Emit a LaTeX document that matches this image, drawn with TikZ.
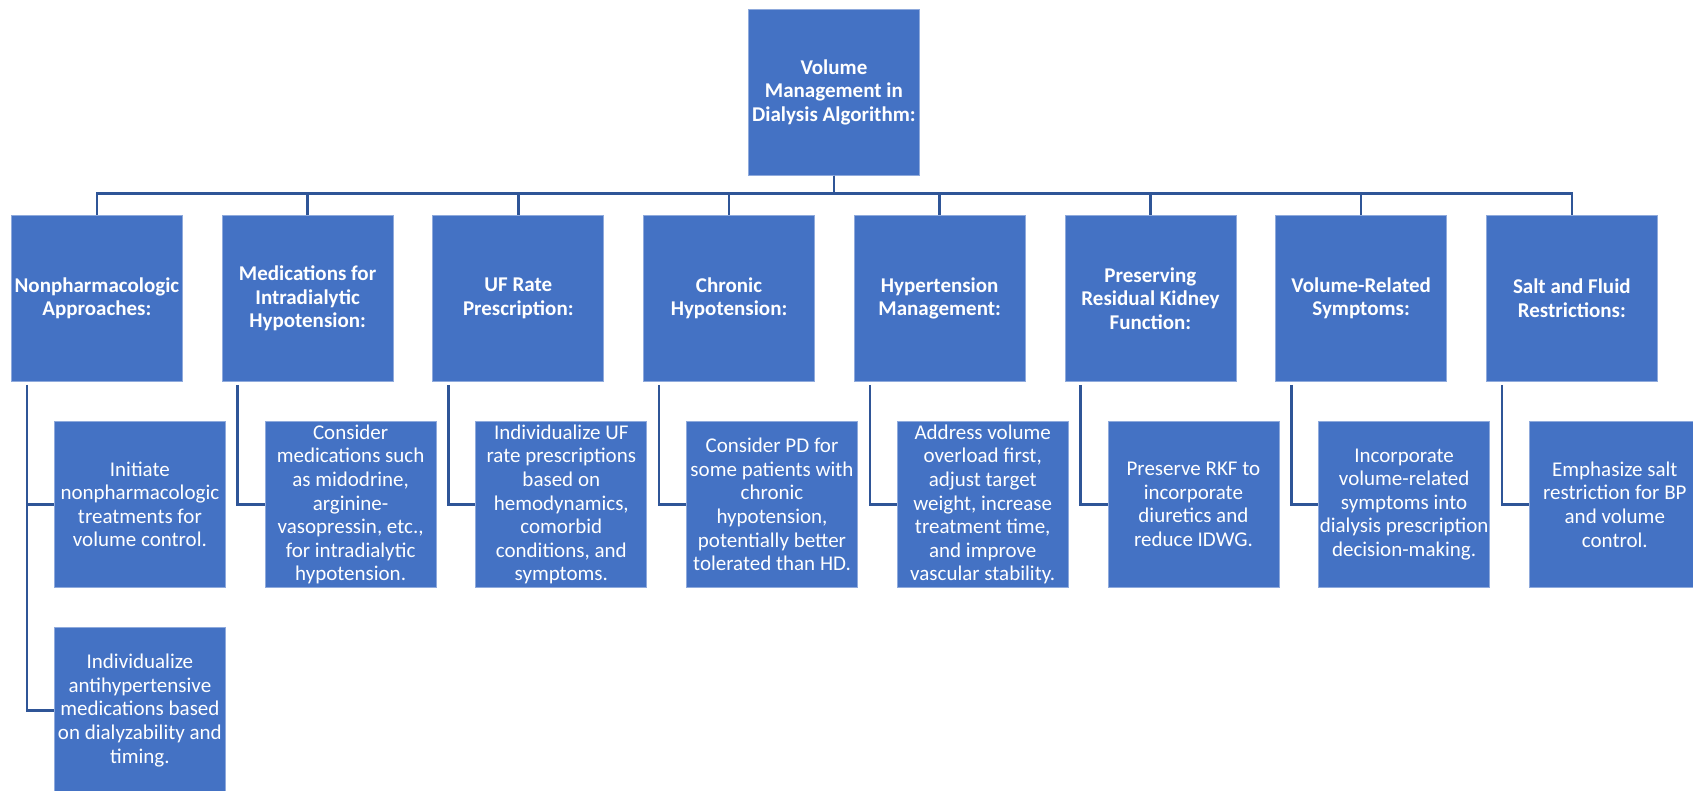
\documentclass[tikz,border=0pt]{standalone}
\usepackage{fontspec}
\setmainfont{Carlito}
\usetikzlibrary{calc}
\definecolor{boxblue}{HTML}{4472C4}
\definecolor{edgeblue}{HTML}{8FAADC}
\definecolor{linkblue}{HTML}{2F5597}
\begin{document}
\begin{tikzpicture}[x=1pt,y=-1pt,
  box/.style={draw=edgeblue, line width=0.8pt, fill=boxblue, text=white,
    minimum width=171pt, minimum height=166pt, inner sep=0pt,
    align=center, anchor=north west, font=\fontsize{21}{23.6}\selectfont},
  head/.style={box, font=\bfseries\fontsize{21}{23.6}\selectfont},
  link/.style={draw=linkblue, line width=2.6pt}]
\useasboundingbox (0,0) rectangle (1693,791);
\begin{scope}
\clip (0,0) rectangle (1693,791);
% root
\node[head] (r) at (748,9) {Volume\\Management in\\Dialysis Algorithm:};
% level 1
\node[head] (a1) at (11,215) {Nonpharmacologic\\Approaches:};
\node[head] (a2) at (221.7,215) {Medications for\\Intradialytic\\Hypotension:};
\node[head] (a3) at (432.4,215) {UF Rate\\Prescription:};
\node[head] (a4) at (643.1,215) {Chronic\\Hypotension:};
\node[head] (a5) at (853.8,215) {Hypertension\\Management:};
\node[head] (a6) at (1064.5,215) {Preserving\\Residual Kidney\\Function:};
\node[head] (a7) at (1275.2,215) {Volume-Related\\Symptoms:};
\node[head] (a8) at (1485.9,215) {Salt and Fluid\\Restrictions:};
% level 2
\node[box] (b1) at (54,421) {Initiate\\nonpharmacologic\\treatments for\\volume control.};
\node[box] (b9) at (54,627) {Individualize\\antihypertensive\\medications based\\on dialyzability and\\timing.};
\node[box] (b2) at (264.7,421) {Consider\\medications such\\as midodrine,\\arginine-\\vasopressin, etc.,\\for intradialytic\\hypotension.};
\node[box] (b3) at (475.4,421) {Individualize UF\\rate prescriptions\\based on\\hemodynamics,\\comorbid\\conditions, and\\symptoms.};
\node[box] (b4) at (686.1,421) {Consider PD for\\some patients with\\chronic\\hypotension,\\potentially better\\tolerated than HD.};
\node[box] (b5) at (896.8,421) {Address volume\\overload first,\\adjust target\\weight, increase\\treatment time,\\and improve\\vascular stability.};
\node[box] (b6) at (1107.5,421) {Preserve RKF to\\incorporate\\diuretics and\\reduce IDWG.};
\node[box] (b7) at (1318.2,421) {Incorporate\\volume-related\\symptoms into\\dialysis prescription\\decision-making.};
\node[box] (b8) at (1528.9,421) {Emphasize salt\\restriction for BP\\and volume\\control.};
% connectors level 0 -> 1
\foreach \i in {1,...,8}{
  \draw[link] (r.south) -- ++(0,18) -| (a\i.north);
}
% connectors level 1 -> 2
\draw[link] ($(a1.south west)+(16,3)$) |- (b1.west);
\draw[link] ($(a1.south west)+(16,3)$) |- (b9.west);
\foreach \i in {2,...,8}{
  \draw[link] ($(a\i.south west)+(16,3)$) |- (b\i.west);
}
\end{scope}
\end{tikzpicture}
\end{document}
